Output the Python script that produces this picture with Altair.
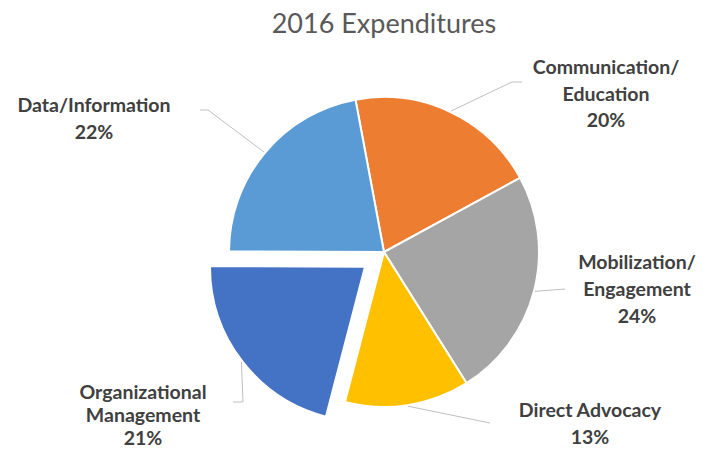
import math
import altair as alt
import pandas as pd

# ---------------- data ----------------
categories = ["Communication/Education", "Mobilization/Engagement", "Direct Advocacy",
              "Organizational Management", "Data/Information"]
label_lines = [["Communication/", "Education"], ["Mobilization/", "Engagement"],
               ["Direct Advocacy"], ["Organizational", "Management"], ["Data/Information"]]
shares = [20, 24, 13, 21, 22]
colors = ["#ED7D31", "#A5A5A5", "#FFC000", "#4472C4", "#5B9BD5"]
title_text = "2016 Expenditures"

# ---------------- layout (page pixels) ----------------
OX, OY = 8, 58            # page position of the view origin
PAD_TOP, PAD_BOTTOM = 50, 8
VIEW_W, VIEW_H = 697, 383
CX, CY = 384 - OX, 252 - OY   # pie centre (view coords)
R = 155
START_DEG = -10.6
EXPLODE = [0, 0, 0, 24, 0]
# first-line baseline of every label block and its line spacing (page coords)
LABEL_X = [606, 637, 590, 143, 94]
LABEL_Y = [74, 269, 417, 399, 112]
LABEL_LH = [26.5, 27, 27, 23, 27]
# leader line elbow / end points (page coords)
LEADER_ELBOW = [(512, 82), (565, 289), (490, 423), (243, 402), (208, 110)]
LEADER_END = [(522, 82), (565, 289), (490, 423), (233, 402), (200, 110)]

total = sum(shares)
cum = 0
mids = []
for s in shares:
    mids.append(math.radians(START_DEG) + 2 * math.pi * (cum + s / 2) / total)
    cum += s

df = pd.DataFrame({
    "category": categories,
    "share": shares,
    "idx": list(range(len(categories))),
})

label_rows = []
for i, (c, ll, s) in enumerate(zip(categories, label_lines, shares)):
    for k, line in enumerate(ll + [f"{s}%"]):
        label_rows.append({"category": c, "line": line,
                           "lx": LABEL_X[i] - OX,
                           "ly": LABEL_Y[i] - OY + k * LABEL_LH[i]})
label_df = pd.DataFrame(label_rows)

rows = []
for i, c in enumerate(categories):
    ex = CX + EXPLODE[i] * math.sin(mids[i])
    ey = CY - EXPLODE[i] * math.cos(mids[i])
    pts = [(ex + (R + 1) * math.sin(mids[i]), ey - (R + 1) * math.cos(mids[i])),
           (LEADER_ELBOW[i][0] - OX, LEADER_ELBOW[i][1] - OY),
           (LEADER_END[i][0] - OX, LEADER_END[i][1] - OY)]
    for k, (px, py) in enumerate(pts):
        rows.append({"category": c, "step": k, "px": px, "py": py})
leaders = pd.DataFrame(rows)

color_scale = alt.Scale(domain=categories, range=colors)
theta_scale = alt.Scale(domain=[0, total],
                        range=[math.radians(START_DEG), math.radians(START_DEG) + 2 * math.pi])

exploded_cat = categories[EXPLODE.index(max(EXPLODE))]
ex_i = categories.index(exploded_cat)
EX_X = CX + EXPLODE[ex_i] * math.sin(mids[ex_i])
EX_Y = CY - EXPLODE[ex_i] * math.cos(mids[ex_i])

base = alt.Chart(df)
arc_common = dict(
    theta=alt.Theta("share:Q", stack=True, scale=theta_scale),
    order=alt.Order("idx:Q"),
    color=alt.Color("category:N", scale=color_scale, legend=None),
)

pie_main = base.mark_arc(outerRadius=R, stroke="white", strokeWidth=2).encode(
    x=alt.value(CX), y=alt.value(CY),
    opacity=alt.condition(alt.datum.category == exploded_cat, alt.value(0), alt.value(1)),
    **arc_common,
)
pie_ex = base.mark_arc(outerRadius=R, stroke="white", strokeWidth=2).encode(
    x=alt.value(EX_X), y=alt.value(EX_Y),
    opacity=alt.condition(alt.datum.category == exploded_cat, alt.value(1), alt.value(0)),
    **arc_common,
)

lines = alt.Chart(leaders).mark_line(color="#BFBFBF", strokeWidth=1).encode(
    x=alt.X("px:Q", scale=None),
    y=alt.Y("py:Q", scale=None),
    detail="category:N",
    order="step:Q",
)

labels = alt.Chart(label_df).mark_text(font="Lato", fontWeight="bold", fontSize=19.5,
                                       color="#404040", align="center",
                                       baseline="alphabetic").encode(
    x=alt.X("lx:Q", scale=None),
    y=alt.Y("ly:Q", scale=None),
    text="line:N",
)

chart = alt.layer(pie_main, pie_ex, lines, labels).properties(
    width=VIEW_W, height=VIEW_H,
    padding={"left": 0, "top": PAD_TOP, "right": 0, "bottom": PAD_BOTTOM},
    autosize=alt.AutoSizeParams(type="none"),
    title=alt.TitleParams(title_text, font="Lato", fontSize=27, fontWeight="normal",
                          color="#595959", anchor="middle", frame="group",
                          dx=384 - OX - VIEW_W / 2, dy=2,
                          baseline="alphabetic", offset=0),
).configure_view(stroke=None)

chart.save("out.html", embed_options={"renderer": "svg", "actions": False})
